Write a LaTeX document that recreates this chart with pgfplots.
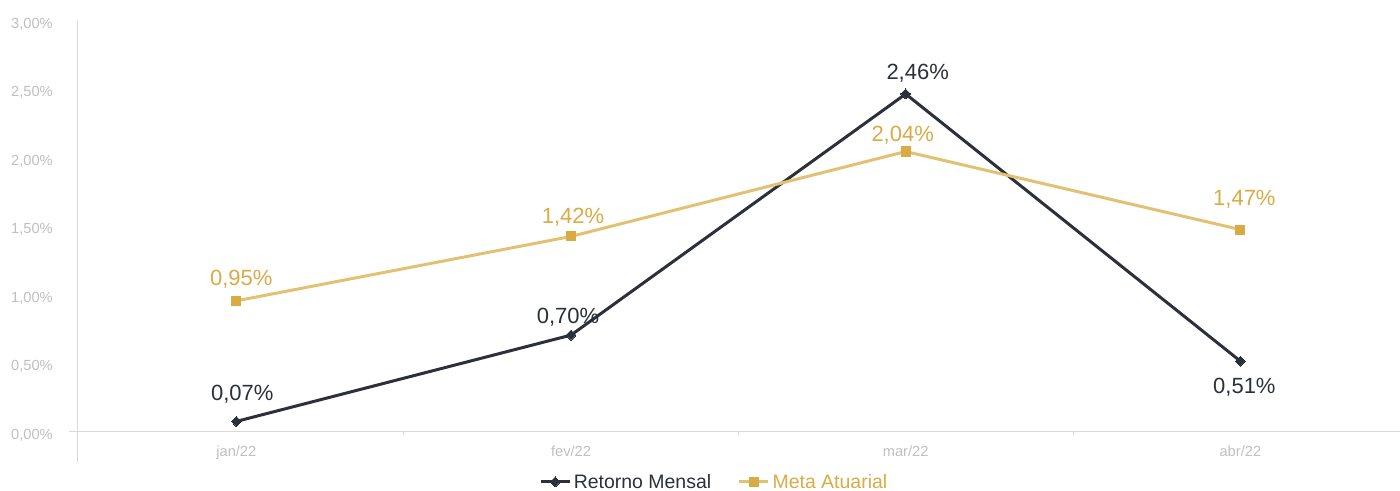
\documentclass[border=0pt]{standalone}
\usepackage{pgfplots}
\pgfplotsset{compat=1.18}
\usepackage{fontspec}
\setmainfont{Liberation Sans}

\definecolor{darkc}{HTML}{2B303B}
\definecolor{goldl}{HTML}{E2C172}
\definecolor{goldm}{HTML}{D9AB45}
\definecolor{tickc}{HTML}{BFBFBF}
\definecolor{axisc}{HTML}{D9D9D9}

% x  y  dx dy  (label offsets in px, baseline above point)
\pgfplotstableread{
x y dx dy
0 0.07 6 21
1 0.70 -3 12
2 2.46 12 14
3 0.51 4 -32
}\retorno
\pgfplotstableread{
x y dx dy
0 0.95 5 15
1 1.42 2 13
2 2.04 -3 10
3 1.47 4 24
}\meta

\begin{document}
\begin{tikzpicture}
\begin{axis}[
    name=ax,
    scale only axis,
    width=998.25pt, height=308.25pt,
    xmin=-0.5, xmax=3.477,
    ymin=0, ymax=3,
    axis lines*=left,
    separate axis lines,
    y axis line style={draw=none},
    x axis line style={draw=axisc, line width=0.75pt},
    xtick={0,1,2,3},
    xticklabels={jan/22,fev/22,mar/22,abr/22},
    major tick length=0pt,
    extra x ticks={0.5,1.5,2.5},
    extra x tick labels={},
    extra x tick style={major tick length=3pt, tick align=outside},
    tick style={draw=axisc, line width=0.75pt},
    ytick={0,0.5,1,1.5,2,2.5,3},
    yticklabel={\pgfmathprintnumber[fixed,fixed zerofill,precision=2,use comma,assume math mode=true]{\tick}\%},
    yticklabel style={anchor=base east, inner sep=0pt, xshift=-12pt, yshift=-6pt},
    xticklabel style={anchor=base, inner sep=0pt, yshift=-18.75pt},
    tick label style={font=\fontsize{11}{13}\selectfont, text=tickc},
    clip=false,
    nodes near coords={\pgfmathprintnumber[fixed,fixed zerofill,precision=2,use comma,assume math mode=true]{\pgfplotspointmeta}\%},
    point meta=y,
    visualization depends on={\thisrow{dx} \as \dx},
    visualization depends on={\thisrow{dy} \as \dy},
    every node near coord/.append style={anchor=base, inner sep=0pt,
        xshift=\dx*0.75pt, yshift=\dy*0.75pt,
        font=\fontsize{16.5}{18}\selectfont},
    legend style={at={(0.485,-0.124)}, anchor=center, draw=none, fill=none,
        legend columns=2, font=\fontsize{14.6}{16}\selectfont, text=darkc,
        inner sep=0pt,
        /tikz/every even column/.append style={column sep=18pt}},
    legend cell align=left,
    legend image code/.code={\draw[mark repeat=2,mark phase=2] plot coordinates {(0pt,0pt)(10.9pt,0pt)(21.75pt,0pt)};},
]
\addplot[darkc, line width=2.25pt, mark=diamond*, mark size=3.75pt,
    mark options={fill=darkc, draw=darkc, line width=0pt, xscale=1.3},
    every node near coord/.append style={text=darkc}]
    table[x=x, y=y] {\retorno};
\addplot[goldl, line width=2.25pt, mark=square*, mark size=3.4pt,
    mark options={fill=goldm, draw=goldm, line width=0pt},
    every node near coord/.append style={text=goldm}]
    table[x=x, y=y] {\meta};
\legend{Retorno Mensal, \textcolor{goldm}{Meta Atuarial}}
\draw[axisc, line width=0.75pt] (axis cs:-0.476,3) -- (axis cs:-0.476,-0.2263);
\end{axis}
\pgfresetboundingbox
\useasboundingbox ([xshift=-51.75pt, yshift=-44.25pt]ax.south west) rectangle ([yshift=15pt]ax.north east);
\end{tikzpicture}
\end{document}
